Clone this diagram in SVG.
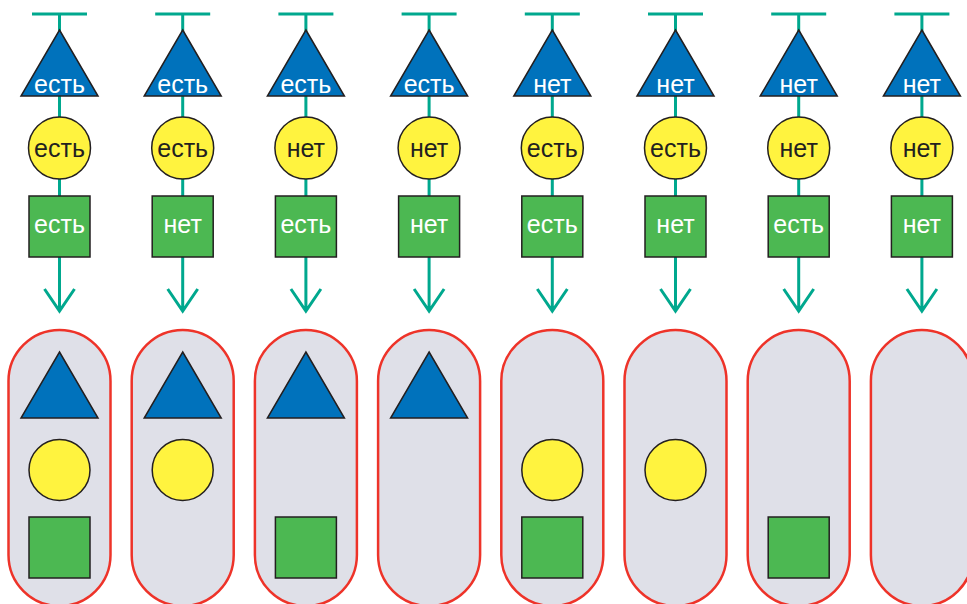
<svg xmlns="http://www.w3.org/2000/svg" width="967" height="604" viewBox="0 0 967 604">
<style>
.ln{stroke:#00A88E;stroke-width:3;fill:none}
.tri{fill:#0072BC;stroke:#231F20;stroke-width:1.5}
.cir{fill:#FFF33F;stroke:#231F20;stroke-width:1.5}
.sq{fill:#4CB852;stroke:#231F20;stroke-width:1.5}
.pill{fill:#DFE0E8;stroke:#EE3329;stroke-width:2.5}
text{font-family:"Liberation Sans",Arial,sans-serif;font-size:25px;text-anchor:middle}
.w{fill:#FFFFFF}
.k{fill:#231F20}
</style>
<defs>
<g id="conn"><path class="ln" d="M-27.5,14H27.5M0,14V311M-15,289L0,311L15,289"/></g>
<polygon id="T" class="tri" points="0,30 38.5,96 -38.5,96"/>
<circle id="C" class="cir" cx="0" cy="148" r="31"/>
<rect id="S" class="sq" x="-30.5" y="196" width="61" height="61"/>
<polygon id="bT" class="tri" points="0,352 38.5,418 -38.5,418"/>
<circle id="bC" class="cir" cx="0" cy="470" r="30.5"/>
<rect id="bS" class="sq" x="-30.5" y="517" width="61" height="61"/>
<rect id="P" class="pill" x="-51" y="330" width="102" height="276" rx="51" ry="51"/>
</defs>
<g id="connectors">
<use href="#conn" transform="translate(59.5,0)"/>
<use href="#conn" transform="translate(182.7,0)"/>
<use href="#conn" transform="translate(305.9,0)"/>
<use href="#conn" transform="translate(429.1,0)"/>
<use href="#conn" transform="translate(552.3,0)"/>
<use href="#conn" transform="translate(675.5,0)"/>
<use href="#conn" transform="translate(798.7,0)"/>
<use href="#conn" transform="translate(921.9,0)"/>
</g>
<g id="col1" transform="translate(59.5,0)">
<g id="t1"><use href="#T"/><text class="w" x="0" y="92.5">есть</text></g>
<g id="c1"><use href="#C"/><text class="k" x="0" y="156.5">есть</text></g>
<g id="s1"><use href="#S"/><text class="w" x="0" y="233">есть</text></g>
<g id="r1"><use href="#P"/><use href="#bT"/><use href="#bC"/><use href="#bS"/></g>
</g>
<g id="col2" transform="translate(182.7,0)">
<g id="t2"><use href="#T"/><text class="w" x="0" y="92.5">есть</text></g>
<g id="c2"><use href="#C"/><text class="k" x="0" y="156.5">есть</text></g>
<g id="s2"><use href="#S"/><text class="w" x="0" y="233">нет</text></g>
<g id="r2"><use href="#P"/><use href="#bT"/><use href="#bC"/></g>
</g>
<g id="col3" transform="translate(305.9,0)">
<g id="t3"><use href="#T"/><text class="w" x="0" y="92.5">есть</text></g>
<g id="c3"><use href="#C"/><text class="k" x="0" y="156.5">нет</text></g>
<g id="s3"><use href="#S"/><text class="w" x="0" y="233">есть</text></g>
<g id="r3"><use href="#P"/><use href="#bT"/><use href="#bS"/></g>
</g>
<g id="col4" transform="translate(429.1,0)">
<g id="t4"><use href="#T"/><text class="w" x="0" y="92.5">есть</text></g>
<g id="c4"><use href="#C"/><text class="k" x="0" y="156.5">нет</text></g>
<g id="s4"><use href="#S"/><text class="w" x="0" y="233">нет</text></g>
<g id="r4"><use href="#P"/><use href="#bT"/></g>
</g>
<g id="col5" transform="translate(552.3,0)">
<g id="t5"><use href="#T"/><text class="w" x="0" y="92.5">нет</text></g>
<g id="c5"><use href="#C"/><text class="k" x="0" y="156.5">есть</text></g>
<g id="s5"><use href="#S"/><text class="w" x="0" y="233">есть</text></g>
<g id="r5"><use href="#P"/><use href="#bC"/><use href="#bS"/></g>
</g>
<g id="col6" transform="translate(675.5,0)">
<g id="t6"><use href="#T"/><text class="w" x="0" y="92.5">нет</text></g>
<g id="c6"><use href="#C"/><text class="k" x="0" y="156.5">есть</text></g>
<g id="s6"><use href="#S"/><text class="w" x="0" y="233">нет</text></g>
<g id="r6"><use href="#P"/><use href="#bC"/></g>
</g>
<g id="col7" transform="translate(798.7,0)">
<g id="t7"><use href="#T"/><text class="w" x="0" y="92.5">нет</text></g>
<g id="c7"><use href="#C"/><text class="k" x="0" y="156.5">нет</text></g>
<g id="s7"><use href="#S"/><text class="w" x="0" y="233">есть</text></g>
<g id="r7"><use href="#P"/><use href="#bS"/></g>
</g>
<g id="col8" transform="translate(921.9,0)">
<g id="t8"><use href="#T"/><text class="w" x="0" y="92.5">нет</text></g>
<g id="c8"><use href="#C"/><text class="k" x="0" y="156.5">нет</text></g>
<g id="s8"><use href="#S"/><text class="w" x="0" y="233">нет</text></g>
<g id="r8"><use href="#P"/></g>
</g>
</svg>
